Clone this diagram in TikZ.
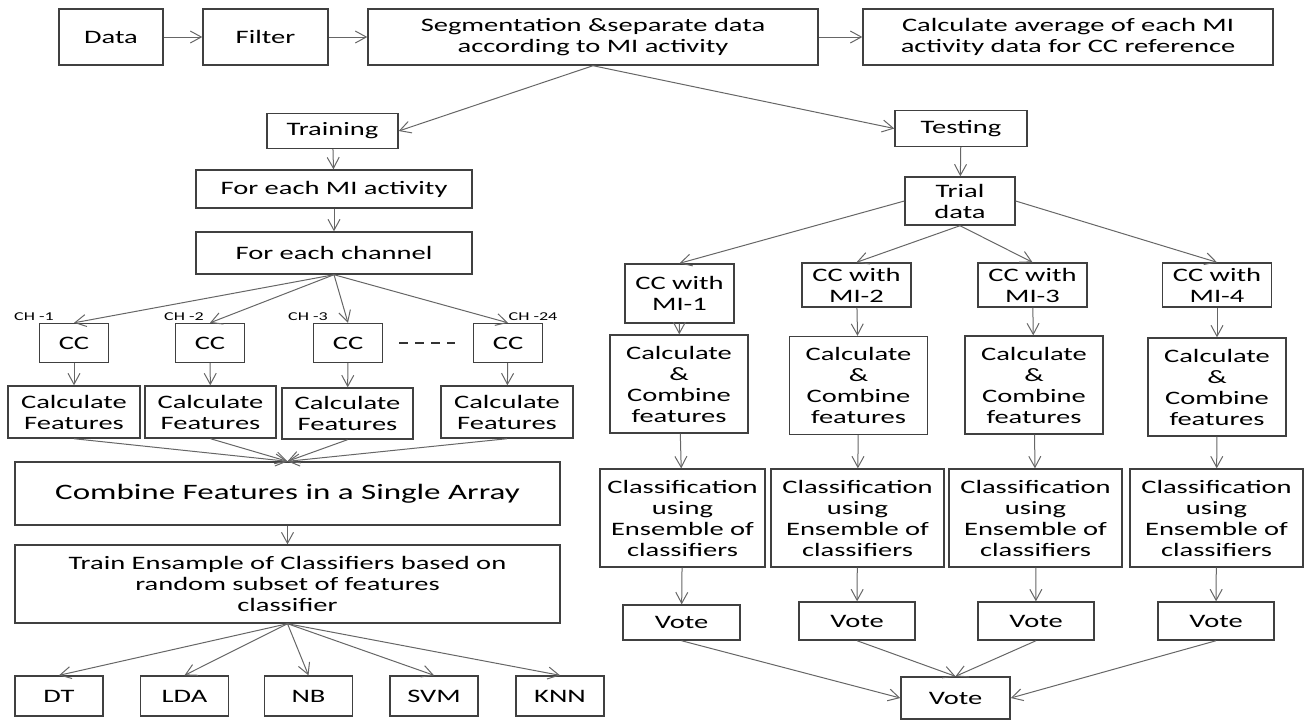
\documentclass[tikz,border=0pt]{standalone}
\usepackage{fontspec}
\setmainfont{Carlito}[FakeStretch=1.5]
\usetikzlibrary{arrows.meta}

\begin{document}
\begin{tikzpicture}[x=0.5pt,y=-0.5pt,>={Straight Barb[length=5.5pt,width=6pt]},
  font=\fontsize{9.5}{10.5}\selectfont,
  box/.style={draw=black!75,line width=0.7pt,align=center,inner sep=0pt},
  wh/.style 2 args={minimum width=#1*0.5pt,minimum height=#2*0.5pt},
  link/.style={->,draw=black!60,line width=0.5pt},
  chlab/.style={font=\fontsize{6}{7}\selectfont}]
\useasboundingbox (0,0) rectangle (1304,720);
\node[box,wh={104}{56}] (data) at (111,37) {Data};
\node[box,wh={125}{56}] (filter) at (265.5,37) {Filter};
\node[box,wh={450}{56}] (seg) at (593,37) {Segmentation \&separate data\\according to MI activity};
\node[box,wh={410}{56}] (avg) at (1068,37) {Calculate average of each MI\\activity data for CC reference};
\node[box,wh={131}{35}] (train) at (332.5,131) {Training};
\node[box,wh={132}{36}] (test) at (961,128.5) {Testing};
\draw[link] (data) -- (filter);
\draw[link] (filter) -- (seg);
\draw[link] (seg) -- (avg);
\draw[link] (seg.south) -- (train.east);
\draw[link] (seg.south) -- (test.west);
% training side
\node[box,wh={276}{38}] (eachmi) at (334,189) {For each MI activity};
\node[box,wh={276}{42}] (eachch) at (334,253) {For each channel};
\node[box,wh={69}{39}] (cc1) at (74,343) {CC};
\node[box,wh={69}{39}] (cc2) at (210,343) {CC};
\node[box,wh={69}{39}] (cc3) at (348,343) {CC};
\node[box,wh={69}{39}] (cc4) at (508,343) {CC};
\node[chlab] (ch1) at (34,317) {CH -1};
\node[chlab] (ch2) at (184,317) {CH -2};
\node[chlab] (ch3) at (308,317) {CH -3};
\node[chlab] (ch24) at (533,317) {CH -24};
\draw[black!80,line width=0.8pt,dash pattern=on 4.5pt off 3.5pt] ([xshift=8pt]cc3.east) -- ([xshift=-9pt]cc4.west);
\node[box,wh={132}{52}] (feat1) at (74,412) {Calculate\\Features};
\node[box,wh={131}{52}] (feat2) at (210.5,412) {Calculate\\Features};
\node[box,wh={131}{51}] (feat3) at (347.5,413.5) {Calculate\\Features};
\node[box,wh={132}{52}] (feat4) at (507,412) {Calculate\\Features};
\node[box,wh={545}{63},font=\fontsize{11}{13}\selectfont] (comb) at (287.5,493.5) {Combine Features in a Single Array};
\node[box,wh={545}{78}] (ens) at (287.5,584) {Train Ensample of Classifiers based on\\random subset of features\\classifier};
\node[box,wh={88}{40}] (dt) at (59,696) {DT};
\node[box,wh={88}{40}] (lda) at (184.5,696) {LDA};
\node[box,wh={88}{40}] (nb) at (308.5,696) {NB};
\node[box,wh={88}{40}] (svm) at (434,696) {SVM};
\node[box,wh={88}{40}] (knn) at (560,696) {KNN};
\draw[link] (train) -- (eachmi);
\draw[link] (eachmi) -- (eachch);
\draw[link] (eachch.south) -- (cc1.north);
\draw[link] (eachch.south) -- (cc2.north);
\draw[link] (eachch.south) -- (cc3.north);
\draw[link] (eachch.south) -- (cc4.north);
\draw[link] (cc1) -- (feat1);
\draw[link] (cc2) -- (feat2);
\draw[link] (cc3) -- (feat3);
\draw[link] (cc4) -- (feat4);
\draw[link] (feat1.south) -- (comb.north);
\draw[link] (feat2.south) -- (comb.north);
\draw[link] (feat3.south) -- (comb.north);
\draw[link] (feat4.south) -- (comb.north);
\draw[link] (comb) -- (ens);
\draw[link] (ens.south) -- (dt.north);
\draw[link] (ens.south) -- (lda.north);
\draw[link] (ens.south) -- (nb.north);
\draw[link] (ens.south) -- (svm.north);
\draw[link] (ens.south) -- (knn.north);
% testing side
\node[box,wh={110}{48}] (trial) at (960,201) {Trial\\data};
\node[box,wh={109}{59}] (cmi1) at (679.5,293.5) {CC with\\MI-1};
\node[box,wh={109}{44}] (cmi2) at (856.5,285) {CC with\\MI-2};
\node[box,wh={109}{44}] (cmi3) at (1032.5,285) {CC with\\MI-3};
\node[box,wh={109}{44}] (cmi4) at (1217,285) {CC with\\MI-4};
\node[box,wh={138}{98}] (calc1) at (679,384) {Calculate\\\&\\Combine\\features};
\node[box,wh={138}{98}] (calc2) at (858.5,385.5) {Calculate\\\&\\Combine\\features};
\node[box,wh={138}{98}] (calc3) at (1034,385) {Calculate\\\&\\Combine\\features};
\node[box,wh={138}{98}] (calc4) at (1217,387) {Calculate\\\&\\Combine\\features};
\node[box,wh={165}{98}] (cls1) at (682.5,518) {Classification\\using\\Ensemble of\\classifiers};
\node[box,wh={173}{98}] (cls2) at (857.5,518) {Classification\\using\\Ensemble of\\classifiers};
\node[box,wh={173}{98}] (cls3) at (1035.5,518) {Classification\\using\\Ensemble of\\classifiers};
\node[box,wh={173}{98}] (cls4) at (1216.5,518) {Classification\\using\\Ensemble of\\classifiers};
\node[box,wh={117}{35}] (vote1) at (681.5,622.5) {Vote};
\node[box,wh={116}{38}] (vote2) at (857,621) {Vote};
\node[box,wh={116}{38}] (vote3) at (1036,621) {Vote};
\node[box,wh={116}{38}] (vote4) at (1216,621) {Vote};
\node[box,wh={109}{42}] (vote) at (955.5,698) {Vote};
\draw[link] (test) -- (trial);
\draw[link] (trial.west) -- (cmi1.north);
\draw[link] (trial.south) -- (cmi2.north);
\draw[link] (trial.south) -- (cmi3.north);
\draw[link] (trial.east) -- (cmi4.north);
\draw[link] (cmi1) -- (calc1);
\draw[link] (cmi2) -- (calc2);
\draw[link] (cmi3) -- (calc3);
\draw[link] (cmi4) -- (calc4);
\draw[link] (calc1) -- (cls1);
\draw[link] (calc2) -- (cls2);
\draw[link] (calc3) -- (cls3);
\draw[link] (calc4) -- (cls4);
\draw[link] (cls1) -- (vote1);
\draw[link] (cls2) -- (vote2);
\draw[link] (cls3) -- (vote3);
\draw[link] (cls4) -- (vote4);
\draw[link] (vote1.south) -- (vote.west);
\draw[link] (vote2.south) -- (vote.north);
\draw[link] (vote3.south) -- (vote.north);
\draw[link] (vote4.south) -- (vote.east);
\end{tikzpicture}
\end{document}
